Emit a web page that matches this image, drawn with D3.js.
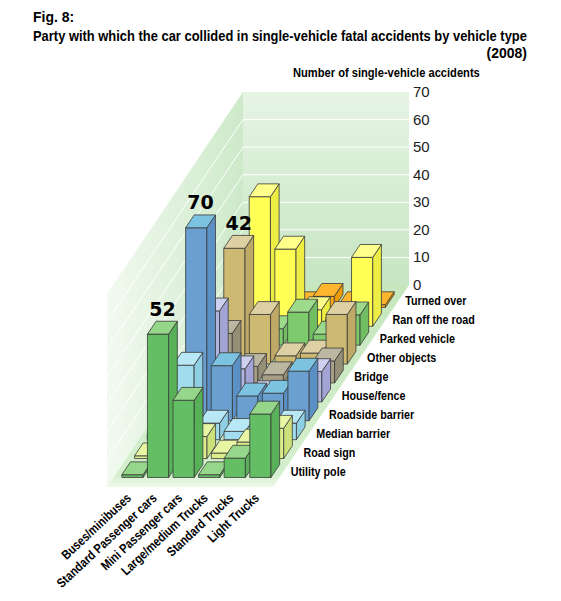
<!DOCTYPE html>
<html>
<head>
<meta charset="utf-8">
<script src="https://cdn.jsdelivr.net/npm/d3@7"></script>
<style>
  body { margin: 0; background: #fff; }
  svg { display: block; }
  .ttl { font-family: "Liberation Sans", Arial, sans-serif; font-weight: bold; fill: #000; }
  .lbl { font-family: "Liberation Sans", Arial, sans-serif; font-weight: bold; fill: #000; font-size: 12.5px; }
  .tick { font-family: "Liberation Sans", Arial, sans-serif; fill: #222; font-size: 15px; }
  .val { font-family: "DejaVu Sans", sans-serif; font-weight: bold; fill: #000; font-size: 19px; }
</style>
</head>
<body>
<svg id="chart" width="561" height="601"></svg>
<script>
// vehicle types along the front edge, collision parties from front to back
const vehicles = ['Buses/minibuses', 'Standard Passenger cars', 'Mini Passenger cars',
    'Large/medium Trucks', 'Standard Trucks', 'Light Trucks'];
const parties = ['Utility pole', 'Road sign', 'Median barrier', 'Roadside barrier', 'House/fence',
    'Bridge', 'Other objects', 'Parked vehicle', 'Ran off the road', 'Turned over'];

// number of accidents, one array per party, in vehicle order
const utilityPole     = [1, 52, 28, 1, 7, 23];
const roadSign        = [1, 3, 8, 2, 6, 11];
const medianBarrier   = [2, 27, 6, 3, 2, 6];
const roadsideBarrier = [4, 70, 20, 9, 10, 18];
const houseFence      = [2, 33, 12, 3, 3, 11];
const bridge          = [1, 18, 6, 3, 2, 8];
const otherObjects    = [2, 42, 18, 3, 4, 18];
const parkedVehicle   = [1, 2, 6, 12, 4, 11];
const ranOffRoad      = [10, 47, 28, 6, 3, 25];
const turnedOver      = [1, 1, 1, 4, 1, 1];

const yTicks = [0, 10, 20, 30, 40, 50, 60, 70];
const labelled = [['Utility pole', 'Standard Passenger cars'], ['Roadside barrier', 'Standard Passenger cars'],
    ['Other objects', 'Standard Passenger cars']];

const values = [utilityPole, roadSign, medianBarrier, roadsideBarrier, houseFence,
    bridge, otherObjects, parkedVehicle, ranOffRoad, turnedOver];

// front, top, side
const colors = {
    'Utility pole':     ['#64be64', '#96d68a', '#58b058'],
    'Road sign':        ['#dcef8c', '#e8f6a4', '#cce07c'],
    'Median barrier':   ['#a2ddef', '#b8e8f5', '#8fcfe4'],
    'Roadside barrier': ['#6a9fcf', '#7cc3e1', '#5b90c4'],
    'House/fence':      ['#b2b4e2', '#cdd0ee', '#a2a4d6'],
    'Bridge':           ['#a59f88', '#bcb7a1', '#958f78'],
    'Other objects':    ['#cdb972', '#ddd0a2', '#bea966'],
    'Parked vehicle':   ['#7ecb6e', '#9dda8c', '#70bd62'],
    'Ran off the road': ['#ffff55', '#ffff8c', '#eded44'],
    'Turned over':      ['#ffaa1a', '#ffb52e', '#ef9a00']
};

const ORIGIN = {x: 107, y: 487};
const DEPTH = {x: 136, y: -202};
const WIDTH = 166;

const svg = d3.select('#chart');

const x = d3.scaleBand().domain(vehicles).range([0, WIDTH]).paddingInner(0.17).paddingOuter(0.33);
const z = d3.scaleBand().domain(parties).range([0, 1]).paddingInner(0.32).paddingOuter(0.505);
const y = d3.scaleLinear().domain([0, 70]).range([0, 193]);

function project(u, t, v) {
    return [ORIGIN.x + u + t * DEPTH.x, ORIGIN.y + t * DEPTH.y - y(v)];
}

const line = d3.line();
const poly = pts => line(pts.map(p => project(...p))) + 'Z';

// gradients
const defs = svg.append('defs');
function gradient(id, x1, y1, x2, y2, stops) {
    const g = defs.append('linearGradient').attr('id', id)
        .attr('gradientUnits', 'userSpaceOnUse')
        .attr('x1', x1).attr('y1', y1).attr('x2', x2).attr('y2', y2);
    stops.forEach(([o, c]) => g.append('stop').attr('offset', o).attr('stop-color', c));
}
const [bx0, by0] = project(0, 1, 0);
const [, by1] = project(0, 1, 70);
gradient('backWall', 0, by1, 0, by0, [[0, '#e6f4e4'], [1, '#c6e5c2']]);
gradient('leftWall', ORIGIN.x, 0, bx0, 0, [[0, '#f2faf0'], [1, '#cde9c9']]);
gradient('floor', 0, ORIGIN.y, 0, by0, [[0, '#eef9ea'], [0.03, '#e2f4dd'], [0.06, '#d4efcd'], [1, '#c6e7be']]);

// walls and floor
svg.append('path').attr('d', poly([[0, 1, 0], [WIDTH, 1, 0], [WIDTH, 1, 70], [0, 1, 70]]))
    .attr('fill', 'url(#backWall)');
svg.append('path').attr('d', poly([[0, 0, 0], [0, 1, 0], [0, 1, 70], [0, 0, 70]]))
    .attr('fill', 'url(#leftWall)');
svg.append('path').attr('d', poly([[0, 0, 0], [WIDTH, 0, 0], [WIDTH, 1, 0], [0, 1, 0]]))
    .attr('fill', 'url(#floor)');

// grid lines
const grid = svg.append('g').attr('stroke', '#fff').attr('stroke-width', 1).attr('fill', 'none');
yTicks.filter(v => v > 0 && v < 70).forEach(v => {
    grid.append('path').attr('d', line([project(0, 1, v), project(WIDTH, 1, v)]));
    grid.append('path').attr('d', line([project(0, 0, v), project(0, 1, v)]));
});

// y tick labels
svg.append('g').selectAll('text').data(yTicks).join('text')
    .attr('class', 'tick')
    .attr('x', d => project(WIDTH, 1, d)[0] + 4)
    .attr('y', d => project(WIDTH, 1, d)[1] + 5)
    .text(d => d);

// bars, back to front, left to right
const bars = [];
parties.forEach((p, pi) => vehicles.forEach((c, ci) => bars.push({party: p, vehicle: c, value: values[pi][ci], pi, ci})));
bars.sort((a, b) => (b.pi - a.pi) || (a.ci - b.ci));

const bw = x.bandwidth();
const bd = z.bandwidth();
const barG = svg.append('g').attr('stroke', '#3a3a3a').attr('stroke-width', 0.8).attr('stroke-linejoin', 'round');
bars.forEach(d => {
    const u0 = x(d.vehicle), u1 = u0 + bw;
    const t0 = z(d.party), t1 = t0 + bd;
    const v = d.value;
    const [front, top, side] = colors[d.party];
    const g = barG.append('g');
    g.append('path').attr('fill', front).attr('d', poly([[u0, t0, 0], [u1, t0, 0], [u1, t0, v], [u0, t0, v]]));
    g.append('path').attr('fill', side).attr('d', poly([[u1, t0, 0], [u1, t1, 0], [u1, t1, v], [u1, t0, v]]));
    g.append('path').attr('fill', top).attr('d', poly([[u0, t0, v], [u1, t0, v], [u1, t1, v], [u0, t1, v]]));
});

// value labels
labelled.forEach(([p, c]) => {
    const v = values[parties.indexOf(p)][vehicles.indexOf(c)];
    const [lx, ly] = project(x(c) + bw / 2, z(p) + bd / 2, v);
    svg.append('text').attr('class', 'val').attr('text-anchor', 'middle')
        .attr('x', lx).attr('y', ly - 12).text(v);
});

// party labels on the right side
svg.append('g').selectAll('text').data(parties).join('text')
    .attr('class', 'lbl')
    .attr('transform', d => {
        const [px, py] = project(WIDTH, z(d) + bd / 2, 0);
        return `translate(${px + 7},${py + 4.5}) scale(0.86,1)`;
    })
    .text(d => d);

// vehicle labels under the front edge
svg.append('g').selectAll('text').data(vehicles).join('text')
    .attr('class', 'lbl')
    .style('font-size', '13px')
    .attr('text-anchor', 'end')
    .attr('transform', d => {
        const [px, py] = project(x(d) + bw / 2, 0, 0);
        return `translate(${px + 6},${py + 12}) rotate(-43) scale(0.84,1)`;
    })
    .text(d => d);

// titles, squeezed horizontally to the reference widths
function title(str, tx, ty, size, width, anchor) {
    const t = svg.append('text').attr('class', 'ttl').style('font-size', size + 'px')
        .attr('text-anchor', anchor || 'start').text(str);
    const k = width ? Math.min(1, width / t.node().getComputedTextLength()) : 1;
    t.attr('transform', `translate(${tx},${ty}) scale(${k},1)`);
}
title('Fig. 8:', 33, 22, 14);
title('Party with which the car collided in single-vehicle fatal accidents by vehicle type', 33, 41, 14, 494);
title('(2008)', 527, 58, 14, 0, 'end');
title('Number of single-vehicle accidents', 293, 77, 12.5, 187);
</script>
</body>
</html>
